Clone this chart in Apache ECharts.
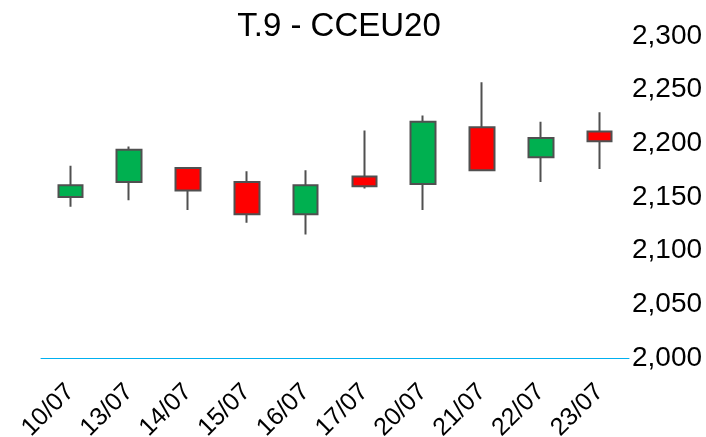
<!DOCTYPE html>
<html>
<head>
<meta charset="utf-8">
<script src="https://cdn.jsdelivr.net/npm/echarts@6/dist/echarts.min.js"></script>
<style>
  html, body { margin: 0; padding: 0; background: #fff; }
  #chart { width: 706px; height: 437px; }
</style>
</head>
<body>
<div id="chart"></div>
<script>
  // dates on the x axis
  const days = ['10/07', '13/07', '14/07', '15/07', '16/07', '17/07', '20/07', '21/07', '22/07', '23/07'];
  // OHLC
  const openVals  = [2150, 2164, 2177, 2164, 2134, 2169, 2162, 2215, 2187, 2211];
  const closeVals = [2161, 2194, 2156, 2134, 2161, 2160, 2220, 2175, 2205, 2202];
  const lowVals   = [2141, 2147, 2138, 2126, 2115, 2158, 2138, 2174, 2164, 2176];
  const highVals  = [2179, 2197, 2177, 2174, 2175, 2212, 2226, 2257, 2220, 2229];

  const font = '"Liberation Sans", Arial, sans-serif';

  // echarts wants [open, close, low, high]
  const ohlc = [];
  for (let i = 0; i < days.length; i++) {
    ohlc.push([openVals[i], closeVals[i], lowVals[i], highVals[i]]);
  }

  const chart = echarts.init(document.getElementById('chart'));
  chart.setOption({
    animation: false,
    title: {
      text: 'T.9 - CCEU20',
      left: 334,
      textAlign: 'center',
      top: 5,
      textStyle: {
        fontFamily: font,
        fontSize: 33,
        fontWeight: 'normal',
        color: '#000'
      }
    },
    grid: {
      left: 41,
      right: 77,
      top: 36,
      bottom: 79,
      outerBoundsMode: 'none',
      containLabel: false
    },
    xAxis: {
      type: 'category',
      data: days,
      axisLine: {
        lineStyle: { color: '#00b0f0', width: 1 }
      },
      axisTick: { show: false },
      axisLabel: {
        rotate: 45,
        margin: 30,
        interval: 0,
        verticalAlign: 'middle',
        fontFamily: font,
        fontSize: 25,
        color: '#000'
      },
      splitLine: { show: false }
    },
    yAxis: {
      type: 'value',
      position: 'right',
      min: 2000,
      max: 2300,
      interval: 50,
      axisLine: { show: false },
      axisTick: { show: false },
      splitLine: { show: false },
      axisLabel: {
        margin: 3,
        fontFamily: font,
        fontSize: 28,
        color: '#000',
        formatter: function (v) {
          return v.toLocaleString('en-US');
        }
      }
    },
    series: [
      {
        type: 'candlestick',
        data: ohlc,
        barWidth: 25,
        itemStyle: {
          color: '#00b050',
          color0: '#ff0000',
          borderColor: '#505050',
          borderColor0: '#505050',
          borderWidth: 2
        }
      }
    ]
  });
</script>
</body>
</html>
